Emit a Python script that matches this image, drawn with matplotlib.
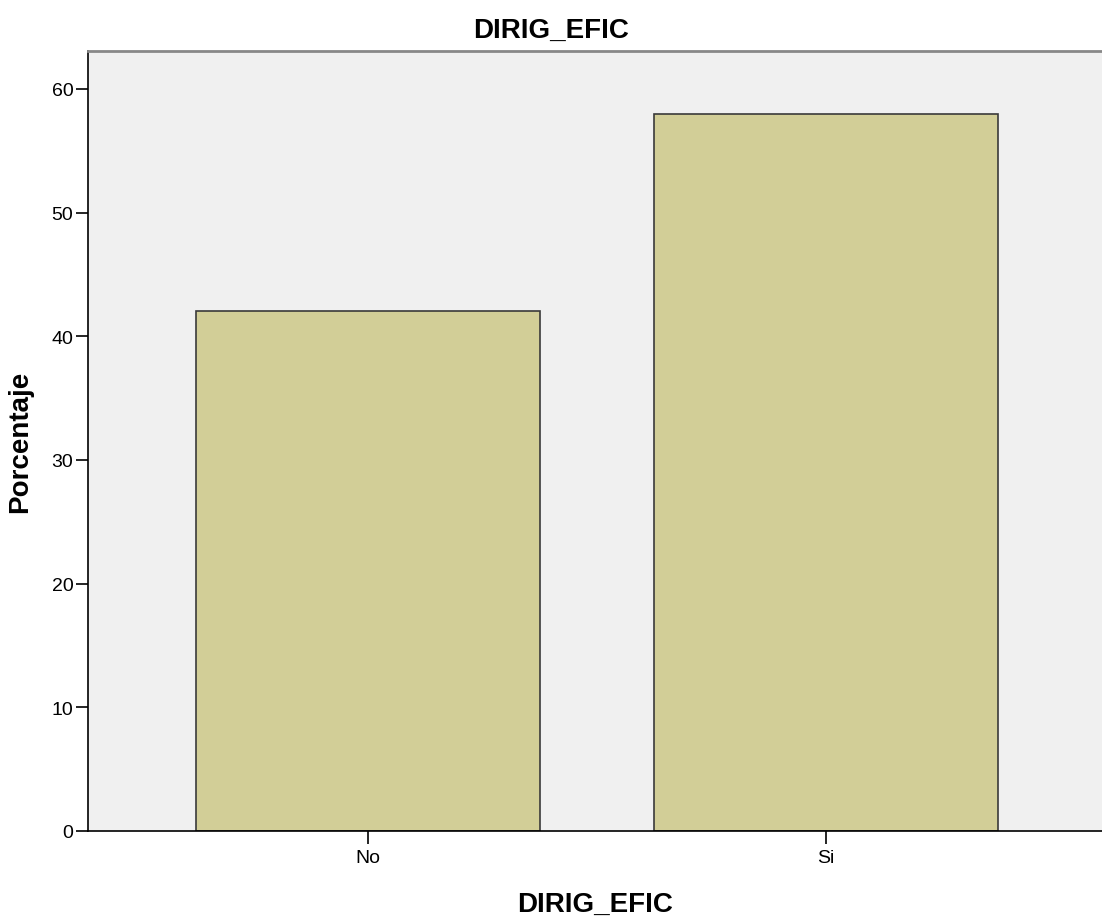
import matplotlib
matplotlib.use('Agg')
import matplotlib.pyplot as plt

categories = ['No', 'Si']
porcentaje = [42.0, 58.0]
yticks = [0, 10, 20, 30, 40, 50, 60]

plt.rcParams['font.family'] = ['Liberation Sans', 'DejaVu Sans']

fig = plt.figure(figsize=(11.02, 9.2), dpi=100)
ax = fig.add_axes([88 / 1102, 88 / 920, 1 - 88 / 1102, 780.5 / 920])
ax.set_facecolor('#f0f0f0')

x = list(range(len(categories)))
ax.bar(x, porcentaje, width=0.751, color='#d2ce97', edgecolor='#3a3a3a', linewidth=1.2, zorder=2)

ax.set_xlim(-0.611, 1.603)
ax.set_ylim(0, 63.1)
ax.set_xticks(x)
ax.set_xticklabels(categories)
ax.set_yticks(yticks)
ax.tick_params(axis='both', labelsize=14, length=9, width=1.2, color='black')
ax.tick_params(axis='y', pad=1.5)
ax.tick_params(axis='x', pad=4)

for s in ['left', 'bottom']:
    ax.spines[s].set_color('black')
    ax.spines[s].set_linewidth(1.2)
ax.spines['top'].set_color('#888888')
ax.spines['top'].set_linewidth(2)
ax.spines['right'].set_visible(False)

# title is centred on the whole figure, not on the axes
fig.suptitle('DIRIG_EFIC', x=0.5, y=1 - 38 / 920, va='baseline', fontsize=20, fontweight='bold')
ax.set_xlabel('DIRIG_EFIC', fontsize=20, fontweight='bold', labelpad=18)
ax.set_ylabel('Porcentaje', fontsize=20, fontweight='bold', labelpad=13)

plt.savefig('out.png', dpi=100)
